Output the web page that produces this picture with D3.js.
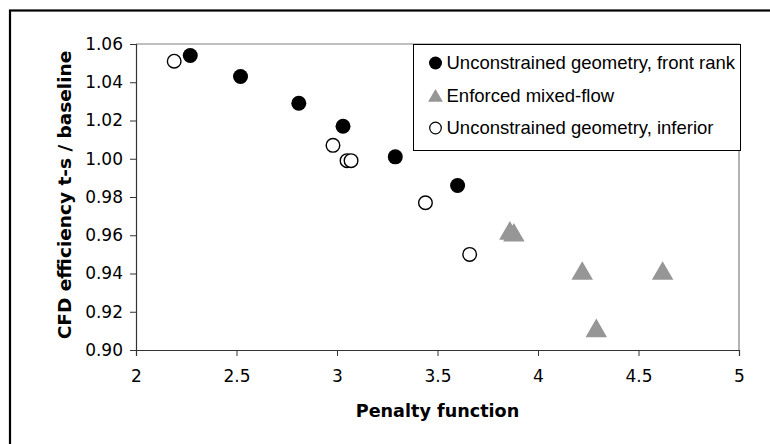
<!DOCTYPE html>
<html>
<head>
<meta charset="utf-8">
<script src="https://cdn.jsdelivr.net/npm/d3@7"></script>
<style>
  body { margin: 0; background: #fff; }
  svg { display: block; }
</style>
</head>
<body>
<div id="chart"></div>
<script>
// front-rank points (filled circles)
const frontX = [2.27, 2.52, 2.81, 3.03, 3.29, 3.60]
const frontY = [1.054, 1.043, 1.029, 1.017, 1.001, 0.986]

// enforced mixed-flow (grey triangles)
const mixedX = [3.86, 3.88, 4.22, 4.62, 4.29]
const mixedY = [0.962, 0.961, 0.941, 0.941, 0.911]

// inferior points (open circles)
const inferiorX = [2.19, 2.98, 3.05, 3.07, 3.44, 3.66]
const inferiorY = [1.051, 1.007, 0.999, 0.999, 0.977, 0.950]

const xTicks = [2, 2.5, 3, 3.5, 4, 4.5, 5]
const yTicks = [0.90, 0.92, 0.94, 0.96, 0.98, 1.00, 1.02, 1.04, 1.06]

const legendLabels = [
  "Unconstrained geometry, front rank",
  "Enforced mixed-flow",
  "Unconstrained geometry, inferior",
]

const width = 770
const height = 444
const margin = { top: 44, right: 31, bottom: 94, left: 136 }
const innerW = width - margin.left - margin.right
const innerH = height - margin.top - margin.bottom
const tickFont = "DejaVu Sans, Verdana, sans-serif"

const svg = d3.select("#chart")
  .append("svg")
  .attr("width", width)
  .attr("height", height)

// outer frame (only top/left visible in the picture)
svg.append("rect")
  .attr("x", 10)
  .attr("y", 10.5)
  .attr("width", width + 20)
  .attr("height", height + 20)
  .attr("fill", "none")
  .attr("stroke", "#000")
  .attr("stroke-width", 2.2)

const g = svg.append("g")
  .attr("transform", `translate(${margin.left}, ${margin.top})`)

const x = d3.scaleLinear().domain([2, 5]).range([0, innerW])
const y = d3.scaleLinear().domain([0.90, 1.06]).range([innerH, 0])

// plot frame, grey top/right
g.append("path")
  .attr("d", `M0,0H${innerW}V${innerH}`)
  .attr("fill", "none")
  .attr("stroke", "#808080")
  .attr("stroke-width", 1.2)

const xAxis = g.append("g")
  .attr("transform", `translate(0, ${innerH})`)
  .call(d3.axisBottom(x).tickValues(xTicks).tickSize(6).tickPadding(14).tickFormat(d3.format("")))

const yAxis = g.append("g")
  .call(d3.axisLeft(y).tickValues(yTicks).tickSize(6).tickPadding(7).tickFormat(d3.format(".2f")))

for (const ax of [xAxis, yAxis]) {
  ax.select(".domain").attr("stroke", "#333").attr("stroke-width", 1.2)
  ax.selectAll(".tick line").attr("stroke", "#333")
  ax.selectAll(".tick text")
    .attr("fill", "#000")
    .style("font-family", tickFont)
    .style("font-size", "17px")
}

// axis titles
svg.append("text")
  .attr("x", margin.left + innerW / 2)
  .attr("y", 417)
  .attr("text-anchor", "middle")
  .style("font-family", tickFont)
  .style("font-size", "17.6px")
  .style("font-weight", "bold")
  .text("Penalty function")

svg.append("text")
  .attr("transform", `translate(71, 195) rotate(-90)`)
  .attr("text-anchor", "middle")
  .style("font-family", tickFont)
  .style("font-size", "18.5px")
  .style("font-weight", "bold")
  .text("CFD efficiency t-s / baseline")

const tri = d3.symbol().type(d3.symbolTriangle)

// marks
g.selectAll(".inferior")
  .data(d3.zip(inferiorX, inferiorY))
  .join("circle")
  .attr("class", "inferior")
  .attr("cx", d => x(d[0]))
  .attr("cy", d => y(d[1]))
  .attr("r", 6.8)
  .attr("fill", "#fff")
  .attr("stroke", "#000")
  .attr("stroke-width", 1.4)

g.selectAll(".front")
  .data(d3.zip(frontX, frontY))
  .join("circle")
  .attr("class", "front")
  .attr("cx", d => x(d[0]))
  .attr("cy", d => y(d[1]))
  .attr("r", 7.5)
  .attr("fill", "#000")

g.selectAll(".mixed")
  .data(d3.zip(mixedX, mixedY))
  .join("path")
  .attr("class", "mixed")
  .attr("transform", d => `translate(${x(d[0])}, ${y(d[1]) + 2})`)
  .attr("d", tri.size(200)())
  .attr("fill", "#969696")

// legend
const legend = svg.append("g").attr("transform", "translate(413.5, 44.5)")
legend.append("rect")
  .attr("width", 327)
  .attr("height", 106)
  .attr("fill", "#fff")
  .attr("stroke", "#000")
  .attr("stroke-width", 1)

const rowY = [18.5, 51.5, 83.5]
const items = legend.selectAll(".item")
  .data(legendLabels)
  .join("g")
  .attr("transform", (d, i) => `translate(22, ${rowY[i]})`)

items.each(function (d, i) {
  const it = d3.select(this)
  if (i === 0) {
    it.append("circle").attr("r", 6.5).attr("fill", "#000")
  } else if (i === 1) {
    it.append("path").attr("d", tri.size(95)()).attr("transform", "translate(0,1.5)").attr("fill", "#969696")
  } else {
    it.append("circle").attr("r", 5.8).attr("fill", "#fff").attr("stroke", "#000").attr("stroke-width", 1.2)
  }
  it.append("text")
    .attr("x", 11)
    .attr("dy", "0.35em")
    .style("font-family", "Liberation Sans, Arial, sans-serif")
    .style("font-size", "18.5px")
    .text(d)
})
</script>
</body>
</html>
